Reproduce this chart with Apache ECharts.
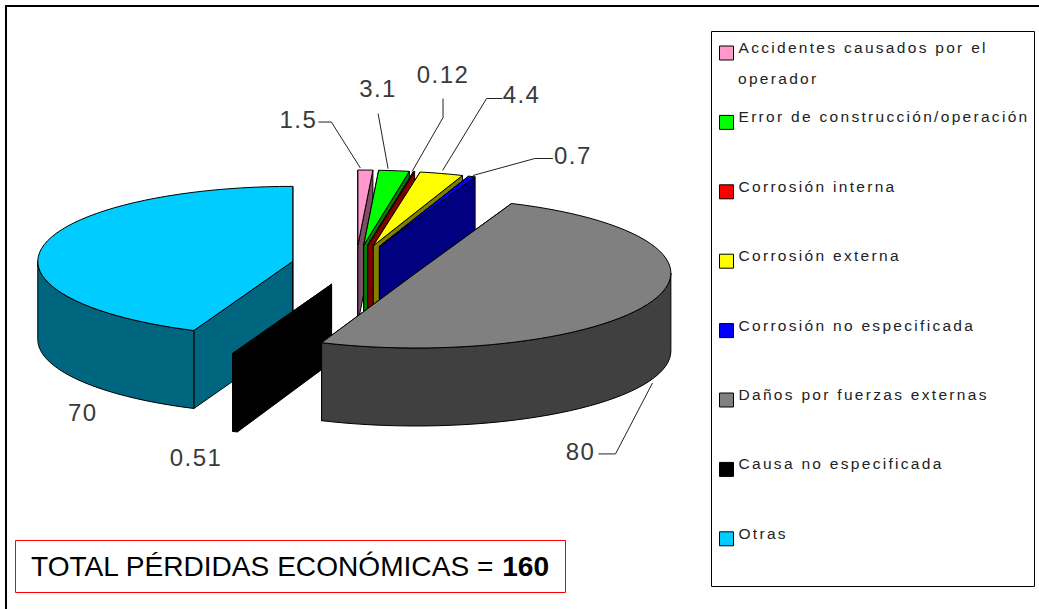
<!DOCTYPE html>
<html>
<head>
<meta charset="utf-8">
<style>html,body{margin:0;padding:0;background:#fff}#c{width:1039px;height:609px}
#c text[style*="15.5px"]{letter-spacing:2.3px;dominant-baseline:alphabetic}
#c text[style*="24px"]{letter-spacing:1.4px}
</style>
<script src="https://cdn.jsdelivr.net/npm/echarts@6/dist/echarts.min.js"></script>
</head>
<body>
<div id="c"></div>
<script>
const categories = ['Accidentes causados por el operador','Error de construcción/operación','Corrosión interna','Corrosión externa','Corrosión no especificada','Daños por fuerzas externas','Causa no especificada','Otras'];
const values = [1.5, 3.1, 0.12, 4.4, 0.7, 80, 0.51, 70];
const topColors = ['#ff99cc','#00ff00','#ff0000','#ffff00','#0000ff','#808080','#000000','#00ccff'];
const wallColors = ['#804d66','#008000','#800000','#808000','#000080','#404040','#000000','#006680'];
// Layout of the tilted pie
const pie = {cx:356, cy:265.4, rx:255, ry:75, depth:78, explodeX:64.5, explodeY:20.4};
// label offsets relative to the outer midpoint of each slice's top face
const labelOffsets = [[-67,-51],[-16,-82],[29,-97],[80,-79],[101,-21],[-72,151],[-39,104],[40,166]];
const leaderOffsets = [
  [[-5,-2],[-34,-48],[-47,-48]],
  [[-6,-2],[-16,-57]],
  [[-2,0],[29,-54],[29,-73]],
  [[1,-3],[45,-75],[61,-75]],
  [[1,-1],[63,-18],[81,-18]],
  [[0,82],[-37,153],[-54,153]],
  [],
  []
];
const drawOrder = [1,2,3,4,5,7,6,2];

const total = values.reduce((a,b)=>a+b,0);
const rad = d => d*Math.PI/180;
function sliceAngles(i){
  let s=0; for(let k=0;k<i;k++) s+=values[k];
  return [s/total*360,(s+values[i])/total*360];
}
function renderSlice(index){
  return function(params, api){
    const val = api.value(0);
    const [a0] = sliceAngles(index);
    const a1 = a0 + val/total*360;
    const mid = (a0+a1)/2;
    const cx = pie.cx + pie.explodeX*Math.sin(rad(mid));
    const cy = pie.cy - pie.explodeY*Math.cos(rad(mid));
    const pt = (a,dz=0)=>[cx+pie.rx*Math.sin(rad(a)), cy-pie.ry*Math.cos(rad(a))+dz];
    const arc = (from,to,dz=0)=>{
      const out=[]; const n=Math.max(1,Math.ceil(Math.abs(to-from)/3));
      for(let j=0;j<=n;j++) out.push(pt(from+(to-from)*j/n,dz));
      return out;
    };
    const stroke = {stroke:'#000',lineWidth:1,lineJoin:'round'};
    const wall = wallColors[index];
    const kids = [];
    const poly = (points,fill)=>kids.push({type:'polygon',shape:{points},style:Object.assign({fill},stroke)});
    const cLow=[cx,cy+pie.depth];
    poly([[cx,cy],pt(a0),pt(a0,pie.depth),cLow],wall);
    poly([[cx,cy],pt(a1),pt(a1,pie.depth),cLow],wall);
    const f0=Math.max(a0,90), f1=Math.min(a1,270);
    if(f1>f0) poly(arc(f0,f1).concat(arc(f1,f0,pie.depth)),wall);
    poly([[cx,cy]].concat(arc(a0,a1)),topColors[index]);
    const o=pt(mid);
    const lead=leaderOffsets[index];
    if(lead.length) kids.push({type:'polyline',shape:{points:lead.map(p=>[o[0]+p[0],o[1]+p[1]])},style:{stroke:'#222',lineWidth:1,fill:null}});
    const lo=labelOffsets[index];
    kids.push({type:'text',style:{text:String(val),x:o[0]+lo[0],y:o[1]+lo[1],fill:'#3a3a3a',font:'24px "Liberation Sans"',align:'center',verticalAlign:'middle'}});
    return {type:'group',children:kids};
  };
}
const chart = echarts.init(document.getElementById('c'),null,{renderer:'svg'});
chart.setOption({
  animation:false,
  backgroundColor:'#fff',
  title:{
    left:15, top:540,
    text:'{a|TOTAL PÉRDIDAS ECONÓMICAS = }{b|160}',
    borderColor:'#ff0000', borderWidth:1,
    padding:[12,17,13,16],
    textStyle:{fontWeight:'normal',rich:{
      a:{fontFamily:'Liberation Sans',fontSize:28.1,fontWeight:'normal',color:'#000',lineHeight:28},
      b:{fontFamily:'Liberation Sans',fontSize:28.1,fontWeight:'bold',color:'#000',lineHeight:28}
    }}
  },
  legend:{
    orient:'vertical', left:714, top:40, padding:5,
    data:categories, icon:'rect',
    itemWidth:14, itemHeight:14, itemGap:53.4,
    itemStyle:{borderColor:'#000',borderWidth:1},
    formatter:n=>n===categories[0]?'Accidentes causados por el':n,
    textStyle:{fontFamily:'Liberation Sans',fontSize:15.5,color:'#222'},
    selectedMode:false
  },
  graphic:[
    {type:'rect',silent:true,z:-1,shape:{x:6,y:6,width:1100,height:700},style:{fill:null,stroke:'#000',lineWidth:2}},
    {type:'rect',silent:true,z:-1,shape:{x:711.5,y:31.5,width:323,height:555},style:{fill:'#fff',stroke:'#000',lineWidth:1}},
    {type:'text',silent:true,style:{text:'operador',x:738,y:84,fill:'#222',font:'15.5px "Liberation Sans"',verticalAlign:'middle'}}
  ],
  series:categories.map((name,i)=>({
    type:'custom', name, coordinateSystem:'none', z:drawOrder[i],
    itemStyle:{color:topColors[i]},
    renderItem:renderSlice(i),
    data:[[values[i]]],
    silent:true
  }))
});
</script>
</body>
</html>
